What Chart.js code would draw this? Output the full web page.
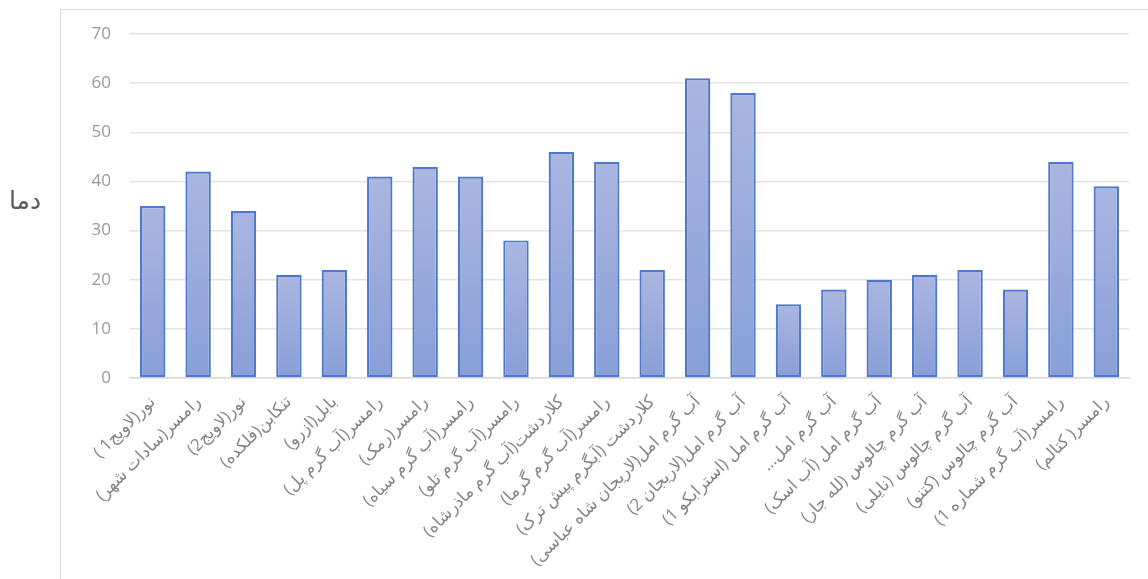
<!DOCTYPE html>
<html lang="fa">
<head>
<meta charset="utf-8">
<script src="https://cdn.jsdelivr.net/npm/chart.js@4.4.1/dist/chart.umd.min.js"></script>
<style>
  html, body { margin: 0; padding: 0; background: #ffffff; }
  body { width: 1148px; height: 579px; position: relative; overflow: hidden; }
  #frame {
    position: absolute; left: 60px; top: 9px; width: 1200px; height: 700px;
    border: 1.5px solid #d9d9d9; box-sizing: border-box;
  }
  #wrap { position: absolute; left: 0; top: 0; width: 1148px; height: 579px; }
  #ytitle {
    position: absolute; left: 9px; top: 186px; direction: rtl;
    font-family: 'DejaVu Sans', sans-serif; font-size: 25px; color: #595959;
  }
</style>
</head>
<body>
<div id="frame"></div>
<div id="wrap"><canvas id="c" dir="rtl" width="1148" height="579"></canvas></div>
<div id="ytitle">دما</div>
<script>
// Hot spring sites (category axis)
const categories = [
  'نور(لاویج1 )',
  'رامسر(سادات شهر)',
  'نور(لاویج2)',
  'تنکابن(فلکده)',
  'بابل(ازرو)',
  'رامسر(آب گرم پل)',
  'رامسر(رمک)',
  'رامسر(آب گرم سیاه)',
  'رامسر(آب گرم تلو)',
  'کلاردشت(آب گرم ماذرشاه)',
  'رامسر(آب گرم گرما)',
  'کلاردشت (آبگرم پیش ترک)',
  'آب گرم امل(لاریجان شاه عباسی)',
  'آب گرم امل(لاریجان 2)',
  'آب گرم امل (استرابکو 1)',
  'آب گرم امل…',
  'آب گرم امل (آب اسک)',
  'آب گرم چالوس (لله جار)',
  'آب گرم چالوس (نایلی)',
  'آب گرم چالوس (کتنو)',
  'رامسر(آب گرم شماره 1)',
  'رامسر( کتالم)'
];

// Water temperature at each site
const temperatures = [35, 42, 34, 21, 22, 41, 43, 41, 28, 46, 44, 22, 61, 58, 15, 18, 20, 21, 22, 18, 44, 39];

// Value axis ticks
const yTicks = [0, 10, 20, 30, 40, 50, 60, 70];

const labelFont = "'Open Sans', 'DejaVu Sans', sans-serif";

// Each bar fades from a light tint at its top to a deeper blue at its base
function barGradient(context) {
  const chart = context.chart;
  const area = chart.chartArea;
  if (!area) return '#9aabdc';
  const y = chart.scales.y;
  const top = y.getPixelForValue(context.raw);
  const base = y.getPixelForValue(0);
  const g = chart.ctx.createLinearGradient(0, top, 0, base + 0.01);
  g.addColorStop(0, '#aab6e0');
  g.addColorStop(1, '#889fd8');
  return g;
}

new Chart(document.getElementById('c'), {
  type: 'bar',
  data: {
    labels: categories,
    datasets: [{
      data: temperatures,
      backgroundColor: barGradient,
      borderColor: '#4f78cb',
      borderWidth: 2.2,
      borderSkipped: false,
      categoryPercentage: 1.0,
      barPercentage: 0.56
    }]
  },
  options: {
    responsive: false,
    animation: false,
    events: [],
    layout: { padding: { top: 34, right: 19, left: 0, bottom: 0 } },
    plugins: {
      legend: { display: false },
      tooltip: { enabled: false },
      title: { display: false }
    },
    scales: {
      y: {
        min: 0,
        max: 70,
        afterBuildTicks: (scale) => { scale.ticks = yTicks.map(v => ({ value: v })); },
        afterFit: (scale) => { scale.width = 130; },
        border: { display: false },
        grid: { color: '#e3e3e3', lineWidth: 1.5, drawTicks: false },
        ticks: {
          padding: 19,
          color: '#9a9a9a',
          font: { family: labelFont, size: 17 }
        }
      },
      x: {
        afterFit: (scale) => { scale.height = 201; },
        border: { display: true, color: '#d9d9d9', width: 1.5 },
        grid: { display: false, drawTicks: false },
        ticks: {
          autoSkip: false,
          maxRotation: 45,
          minRotation: 45,
          padding: 14,
          color: '#858585',
          font: { family: labelFont, size: 17 }
        }
      }
    }
  }
});
</script>
</body>
</html>
